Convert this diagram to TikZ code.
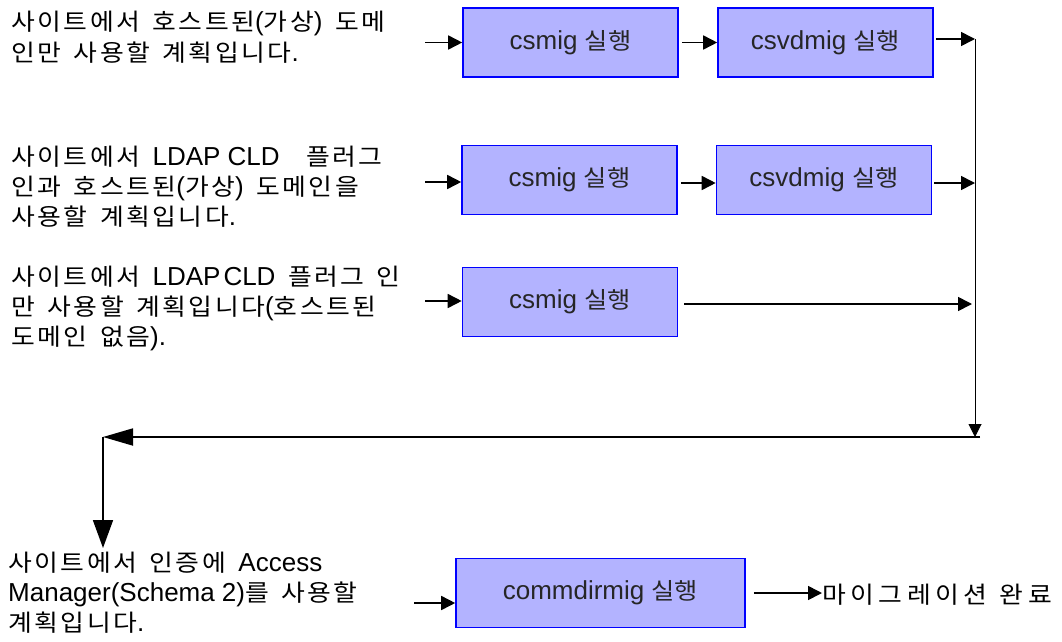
\documentclass[tikz,border=0pt]{standalone}
\usepackage{fontspec}
\setmainfont{Liberation Sans}
\newfontfamily\hgfam[FakeStretch=1.1]{Noto Sans CJK KR}
\usetikzlibrary{arrows.meta}
\newXeTeXintercharclass\HangulClass
\count255="AC00
\loop
  \XeTeXcharclass\count255=\HangulClass
  \ifnum\count255<"D7A3 \advance\count255 by 1
\repeat
\newdimen\hgsz \hgsz=23.5pt
\newdimen\hgkern \hgkern=2.5pt
\XeTeXinterchartoks\HangulClass\HangulClass={\kern\hgkern}
\newcommand\K[1]{{\hgfam\fontsize{\hgsz}{30pt}\selectfont\XeTeXinterchartokenstate=1 #1}}
\newcommand\ls{\hspace{7.2pt}}
\definecolor{boxfill}{HTML}{B3B3FF}
\definecolor{boxline}{HTML}{0000FF}
\tikzset{
  procbox/.style={draw=boxline, line width=1.6pt, fill=boxfill, minimum width=215pt, minimum height=69pt, inner sep=0pt,
    font={\hgsz=23pt\hgkern=0pt\fontsize{26}{26}\selectfont}, text=black!85},
  lbl/.style={anchor=base west, align=left, inner sep=0pt,
    font={\hgsz=23.5pt\hgkern=2.5pt\fontsize{26}{30}\selectfont\spaceskip=12.5pt plus 1pt}},
  arr/.style={line width=1.6pt, -{Triangle[length=14pt,width=14pt]}},
  thin/.style={line width=0.9pt},
}
\begin{document}
\begin{tikzpicture}[x=1pt,y=-1pt]
\useasboundingbox (0,0) rectangle (1062,642);
% left texts (anchor at baseline of last line)
\node[lbl] (t1) at (11,61) {\K{사이트에서} \K{호스트된}(\K{가상}) \K{도메}\\\K{인만} \K{사용할} \K{계획입니다}.};
\node[lbl] (t2) at (11,225) {\K{사이트에서} LDAP\ls CLD\hspace{14pt} \K{플러그}\\\K{인과} \K{호스트된}(\K{가상}) \K{도메인을}\\\K{사용할} \K{계획입니다}.};
\node[lbl] (t3) at (11,345) {\K{사이트에서} LDAP\hspace{3pt}CLD \K{플러그} \K{인}\\\K{만} \K{사용할} \K{계획입니다}(\K{호스트된}\\\K{도메인} \K{없음}).};
\node[lbl] (t4) at (8,631) {\K{사이트에서} \K{인증에} Access\\Manager(Schema\ls 2)\K{를} \K{사용할}\\\K{계획입니다}.};
% boxes
\node[procbox] (a1) at (570.5,42.5) {csmig \K{실행}};
\node[procbox] (b1) at (825.5,42.5) {csvdmig \K{실행}};
\node[procbox] (a2) at (569.5,180) {csmig \K{실행}};
\node[procbox] (b2) at (824,180) {csvdmig \K{실행}};
\node[procbox] (a3) at (570,302) {csmig \K{실행}};
\node[procbox, minimum width=289pt] (c) at (600.5,593) {commdirmig \K{실행}};
\node[lbl] (done) at (822,603) {\hgkern=4.5pt\K{마이그레이션} \K{완료}};
% coordinates
\coordinate (i1) at (425,42.5);
\coordinate (i2) at (425,182);
\coordinate (i3) at (425,301);
\coordinate (i4) at (414,603);
\coordinate (v1) at (975,39);
\coordinate (v2) at (975,183);
\coordinate (v3) at (972,304);
\coordinate (vb) at (975,437);
\coordinate (hr) at (980,437);
\coordinate (hl) at (103,437);
\coordinate (dn) at (103,548);
\coordinate (a1o) at ([xshift=3pt]a1.east);
\coordinate (b1o) at ([xshift=2pt]b1.east);
\coordinate (a2o) at ([xshift=3pt]a2.east);
\coordinate (b2o) at ([xshift=2pt]b2.east);
\coordinate (a3o) at ([xshift=6pt]a3.east);
\coordinate (co) at ([xshift=8pt]c.east);
% row arrows
\draw[arr] (i1) -- (a1.west);
\draw[arr] (a1o) -- (b1.west);
\draw[arr] (b1o |- v1) -- (v1);
\draw[arr] (i2) -- (a2.west |- i2);
\draw[arr] (a2o |- v2) -- (b2.west |- v2);
\draw[arr] (b2o |- v2) -- (v2);
\draw[arr] (i3) -- (a3.west |- i3);
\draw[arr] (a3o |- v3) -- (v3);
% collector
\draw[thin, -{Triangle[length=13pt,width=13pt]}] (v1) -- (vb);
\draw[line width=1.8pt, -{Triangle[length=30pt,width=17pt]}] (hr) -- (hl);
\draw[line width=1.8pt, -{Triangle[length=28pt,width=20pt]}] (hl) -- (dn);
% bottom row
\draw[arr] (i4) -- (c.west |- i4);
\draw[arr] (co) -- (done.west |- co);
\end{tikzpicture}
\end{document}
